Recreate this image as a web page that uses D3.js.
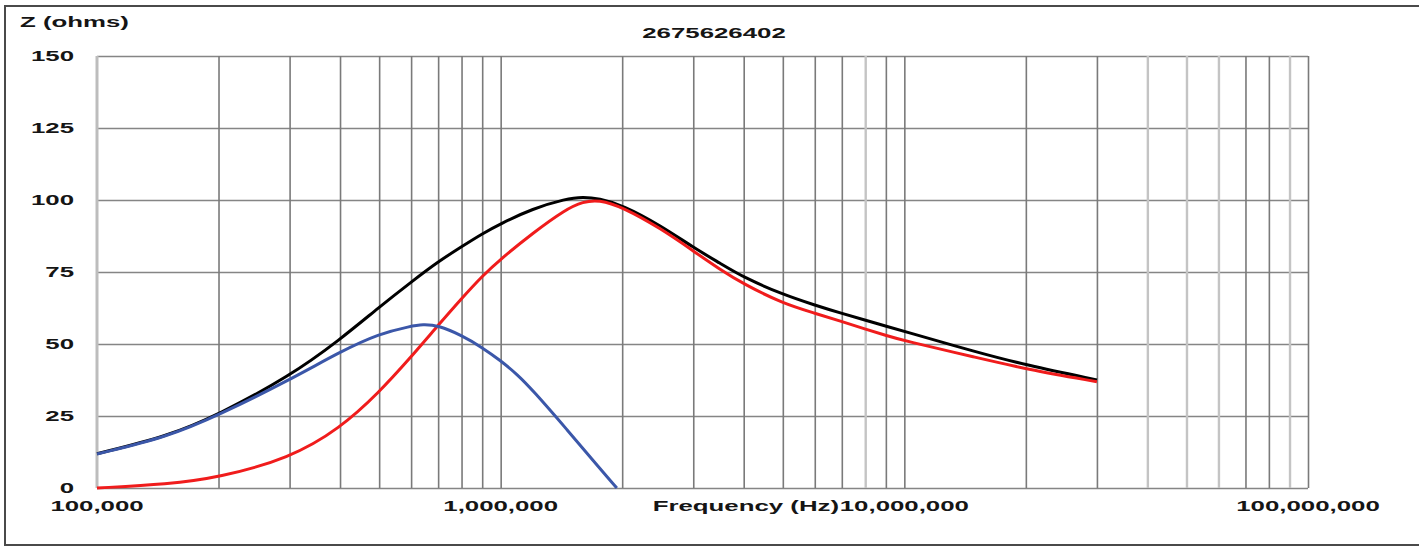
<!DOCTYPE html>
<html>
<head>
<meta charset="utf-8">
<script src="https://cdn.jsdelivr.net/npm/d3@7"></script>
<style>
body { margin: 0; background: #fff; }
svg text { font-family: "Liberation Sans", Arial, sans-serif; font-weight: bold; font-size: 14.5px; fill: #151515; }
</style>
</head>
<body>
<svg id="chart" width="1419" height="547"></svg>
<script>
// chart data
var chartTitle = "2675626402";
var yLabel = "Z (ohms)";
var xLabel = "Frequency (Hz)";

var freqHz = [1e5, 1.5e5, 2e5, 3e5, 4e5, 5e5, 6e5, 7e5, 8e5, 9e5, 1e6, 1.2e6, 1.45e6, 1.6e6, 1.75e6, 2e6, 2.5e6, 3e6, 3.5e6, 4e6, 5e6, 6e6, 7e6, 8e6, 9e6, 1e7, 1.5e7, 2e7, 3e7];
var totalZ = [11.9, 18, 25.5, 38.8, 51.5, 62.8, 71.5, 78.6, 83.8, 88.3, 91.8, 97, 100.4, 101.1, 100.5, 98.3, 91, 83.5, 78, 73.1, 67.2, 63.5, 60.6, 58.3, 56.2, 54.4, 47.3, 42.7, 37.5];
var redZ = [0, 1.3, 3.6, 10.3, 20.7, 33.2, 45.5, 56.5, 65.8, 73.6, 79.5, 88.5, 96.8, 99.4, 100.1, 97.6, 90, 82.3, 75.8, 70.8, 64.1, 60.7, 57.8, 55.2, 53, 51.1, 45.4, 41.3, 36.9];

var blueFreqHz = [1e5, 1.5e5, 2e5, 3e5, 4e5, 5e5, 6e5, 6.4e5, 7e5, 8e5, 9e5, 1e6, 1.1e6, 1.2e6, 1.46e6, 1.77e6, 1.94e6];
var blueZ = [11.8, 17.8, 25.3, 37.5, 47.3, 53.6, 56.2, 56.8, 56.5, 53, 48.8, 44.2, 39.4, 34, 20.3, 6.4, 0];

var yTicks = [0, 25, 50, 75, 100, 125, 150];
var xTickValues = [1e5, 1e6, 1e7, 1e8];
var xTickLabels = ["100,000", "1,000,000", "10,000,000", "100,000,000"];
var lightGrid = [8e6, 4e7, 5e7, 6e7, 9e7];

var svg = d3.select("#chart");
var margin = {top: 56, right: 111, bottom: 59, left: 97};
var width = 1419 - margin.left - margin.right;
var height = 547 - margin.top - margin.bottom;
var stretch = 1.78;

var xScale = d3.scaleLog().domain([1e5, 1e8]).range([0, width]);
var yScale = d3.scaleLinear().domain([0, 150]).range([height, 0]);

// outer frame
svg.append("path")
  .attr("d", "M1419,6H5V545H1419")
  .attr("fill", "none")
  .attr("stroke", "#4a4a4a")
  .attr("stroke-width", 2);

var chart = svg.append("g")
  .attr("transform", "translate(" + margin.left + "," + margin.top + ")");

// horizontal grid
chart.append("g")
  .call(d3.axisLeft(yScale).tickValues(yTicks).tickSize(-width).tickFormat(""))
  .call(g => g.select(".domain").remove())
  .call(g => g.selectAll("line").attr("stroke", "#858585").attr("stroke-width", 1.6));

// vertical grid
var isLight = d => lightGrid.some(v => Math.abs(v - d) < 1);
var vTicks = xScale.ticks().filter(d => d > 1e5);
chart.append("g")
  .attr("transform", "translate(0," + height + ")")
  .call(d3.axisBottom(xScale).tickValues(vTicks).tickSize(-height).tickFormat(""))
  .call(g => g.select(".domain").remove())
  .call(g => g.selectAll("line")
    .attr("stroke", d => isLight(d) ? "#c4c4c4" : "#7a7a7a")
    .attr("stroke-width", d => isLight(d) ? 2.4 : 1.6));

// left edge of plot
chart.append("line")
  .attr("x1", 0).attr("x2", 0)
  .attr("y1", 0).attr("y2", height)
  .attr("stroke", "#bdbdbd")
  .attr("stroke-width", 3);

var line = d3.line()
  .x(d => xScale(d[0]))
  .y(d => yScale(d[1]))
  .curve(d3.curveBasis);

chart.append("path")
  .datum(d3.zip(freqHz, totalZ))
  .attr("d", line)
  .attr("fill", "none")
  .attr("stroke", "#000")
  .attr("stroke-width", 3);

chart.append("path")
  .datum(d3.zip(freqHz, redZ))
  .attr("d", line)
  .attr("fill", "none")
  .attr("stroke", "#f01c1c")
  .attr("stroke-width", 3);

chart.append("path")
  .datum(d3.zip(blueFreqHz, blueZ))
  .attr("d", line)
  .attr("fill", "none")
  .attr("stroke", "#3b57a9")
  .attr("stroke-width", 3);

// stretched bold labels like the original
function stretchText(x, y, txt, anchor) {
  svg.append("text")
    .attr("transform", "translate(" + x + "," + y + ") scale(" + stretch + ",1)")
    .attr("text-anchor", anchor)
    .text(txt);
}

yTicks.forEach(function(t) {
  stretchText(74, margin.top + yScale(t) + 5, t, "end");
});

xTickValues.forEach(function(v, i) {
  stretchText(margin.left + xScale(v), 511, xTickLabels[i], "middle");
});

stretchText(839, 511, xLabel, "end");
stretchText(20, 27, yLabel, "start");
stretchText(714, 38, chartTitle, "middle");
</script>
</body>
</html>
